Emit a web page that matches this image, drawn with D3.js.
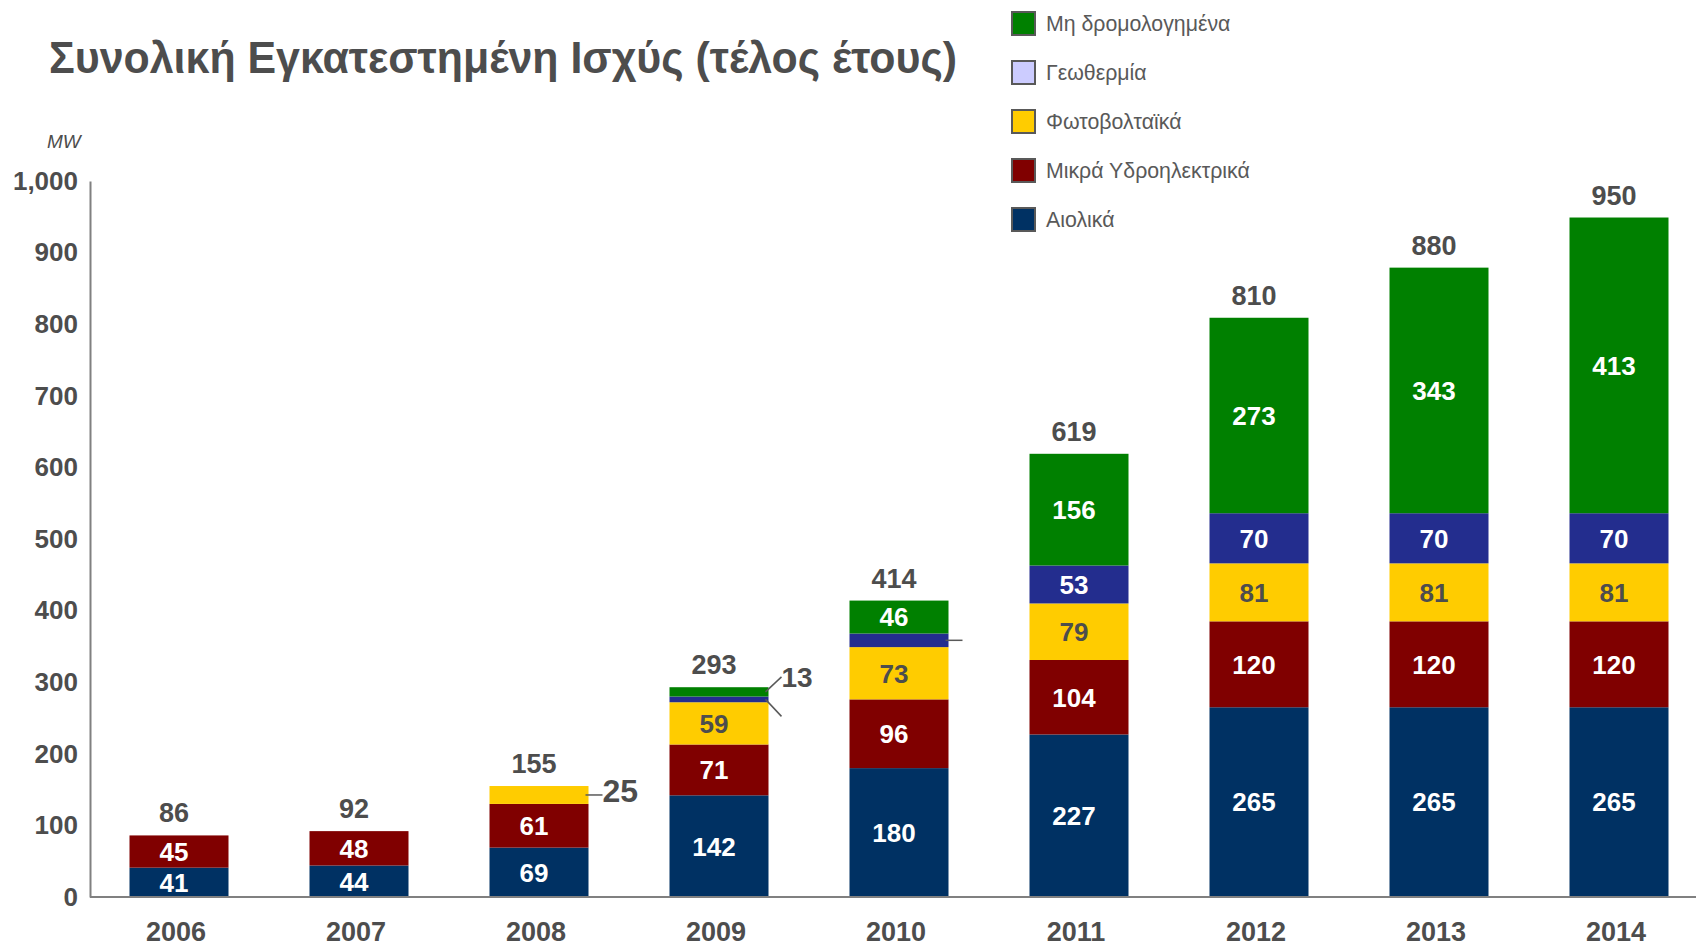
<!DOCTYPE html>
<html>
<head>
<meta charset="utf-8">
<script src="https://cdn.jsdelivr.net/npm/d3@7"></script>
<style>
  html, body { margin: 0; padding: 0; background: #fff; }
  svg text { font-family: "Liberation Sans", Arial, sans-serif; }
</style>
</head>
<body>
<svg id="chart"></svg>
<script>
// --- data ---
const years     = ["2006", "2007", "2008", "2009", "2010", "2011", "2012", "2013", "2014"];
const seriesKeys  = ["wind", "hydro", "pv", "geo", "nondisp"];
const seriesNames = ["Αιολικά", "Μικρά Υδροηλεκτρικά", "Φωτοβολταϊκά", "Γεωθερμία", "Μη δρομολογημένα"];
const wind    = [41, 44, 69, 142, 180, 227, 265, 265, 265];
const hydro   = [45, 48, 61, 71, 96, 104, 120, 120, 120];
const pv      = [0, 0, 25, 59, 73, 79, 81, 81, 81];
const geo     = [0, 0, 0, 8, 19, 53, 70, 70, 70];
const nondisp = [0, 0, 0, 13, 46, 156, 273, 343, 413];
const totals  = [86, 92, 155, 293, 414, 619, 810, 880, 950];
const yTicks  = [0, 100, 200, 300, 400, 500, 600, 700, 800, 900, 1000];
// small segments labelled outside the bar
const callouts = [
  { year: "2008", key: "pv",      text: "25" },
  { year: "2009", key: "nondisp", text: "13" },
  { year: "2009", key: "geo",     text: "" },
  { year: "2010", key: "geo",     text: "" }
];

// --- styles ---
const W = 1696, H = 948;
const barFill    = { wind: "#003163", hydro: "#800000", pv: "#ffcc00", geo: "#232d8e", nondisp: "#008000" };
const legendFill = { wind: "#003163", hydro: "#800000", pv: "#ffcc00", geo: "#ccccff", nondisp: "#008000" };
const labelFill  = { wind: "#fff", hydro: "#fff", pv: "#4d4d4d", geo: "#fff", nondisp: "#fff" };
const grey = "#4d4d4d";

const svg = d3.select("#chart").attr("width", W).attr("height", H);

// table for the stack
const cols = { wind, hydro, pv, geo, nondisp };
const table = years.map((yr, i) => {
  const row = { year: yr };
  seriesKeys.forEach(k => row[k] = cols[k][i]);
  return row;
});
const stacked = d3.stack().keys(seriesKeys)(table);

// scales
const x = d3.scaleBand().domain(years).range([89, 1709]).paddingInner(0.45).paddingOuter(0.225);
const y = d3.scaleLinear().domain([0, 1000]).range([897, 181]);

// title
const title = svg.append("text")
  .attr("x", 49).attr("y", 73)
  .attr("font-size", 44).attr("font-weight", "bold")
  .attr("fill", grey)
  .text("Συνολική Εγκατεστημένη Ισχύς (τέλος έτους)");
if (title.node().getComputedTextLength() > 908) {
  title.attr("textLength", 908).attr("lengthAdjust", "spacingAndGlyphs");
}

// unit
svg.append("text")
  .attr("x", 47).attr("y", 148)
  .attr("font-size", 19).attr("font-style", "italic")
  .attr("fill", grey)
  .text("MW");

// y axis
const yAxis = svg.append("g")
  .attr("transform", "translate(90,0)")
  .call(d3.axisLeft(y).tickValues(yTicks).tickSize(0).tickPadding(12).tickFormat(d3.format(",")));
yAxis.select(".domain").attr("stroke", "#808080").attr("stroke-width", 2);
yAxis.selectAll("text")
  .attr("font-size", 26).attr("font-weight", "bold")
  .attr("fill", grey);

// bars
const layers = svg.append("g").selectAll("g")
  .data(stacked)
  .join("g")
    .attr("fill", d => barFill[d.key]);

layers.selectAll("rect")
  .data(d => d.map(p => Object.assign(p, { key: d.key })))
  .join("rect")
    .attr("x", d => x(d.data.year))
    .attr("width", x.bandwidth())
    .attr("y", d => y(d[1]))
    .attr("height", d => y(d[0]) - y(d[1]));

// inside labels
const inside = stacked.flatMap(s => s.map(p => ({ key: s.key, year: p.data.year, v: p[1] - p[0], y0: p[0], y1: p[1] })))
  .filter(d => d.v >= 30);

svg.append("g").selectAll("text")
  .data(inside)
  .join("text")
    .attr("x", d => x(d.year) + x.bandwidth() / 2 - 5)
    .attr("y", d => y((d.y0 + d.y1) / 2))
    .attr("dy", "0.36em")
    .attr("text-anchor", "middle")
    .attr("font-size", 26).attr("font-weight", "bold")
    .attr("fill", d => labelFill[d.key])
    .text(d => d.v);

// totals
svg.append("g").selectAll("text")
  .data(years)
  .join("text")
    .attr("x", d => x(d) + x.bandwidth() / 2 - 5)
    .attr("y", (d, i) => y(d3.sum(seriesKeys, k => cols[k][i])) - 13)
    .attr("text-anchor", "middle")
    .attr("font-size", 27).attr("font-weight", "bold")
    .attr("fill", grey)
    .text((d, i) => totals[i]);

// callouts for thin segments
callouts.forEach(c => {
  const i = years.indexOf(c.year);
  const s = stacked[seriesKeys.indexOf(c.key)][i];
  const ym = y((s[0] + s[1]) / 2);
  const x0 = x(c.year) + x.bandwidth();
  let x1 = x0 + 14, y1 = ym;
  if (c.year === "2009") { y1 = ym + (c.key === "geo" ? 17 : -15); x1 = x0 + 13; }
  svg.append("line")
    .attr("x1", x0 - 3).attr("y1", ym).attr("x2", x1).attr("y2", y1)
    .attr("stroke", "#595959").attr("stroke-width", 1.5);
  if (c.text) {
    svg.append("text")
      .attr("x", x1).attr("y", c.year === "2008" ? y1 - 4 : y1)
      .attr("dy", "0.36em")
      .attr("font-size", c.year === "2008" ? 32 : 28).attr("font-weight", "bold")
      .attr("fill", grey)
      .text(c.text);
  }
});

// x axis
const xAxis = svg.append("g")
  .attr("transform", "translate(0,897)")
  .call(d3.axisBottom(x).tickSize(0).tickPadding(25));
xAxis.select(".domain").attr("d", "M90,0H1696").attr("stroke", "#808080").attr("stroke-width", 2);
xAxis.selectAll("text")
  .attr("x", -3)
  .attr("font-size", 27).attr("font-weight", "bold")
  .attr("fill", grey);

// legend
const legendKeys = seriesKeys.slice().reverse();
const legend = svg.append("g").attr("transform", "translate(1012,12)")
  .selectAll("g")
  .data(legendKeys)
  .join("g")
    .attr("transform", (d, i) => `translate(0,${i * 49})`);
legend.append("rect")
  .attr("width", 23).attr("height", 23)
  .attr("fill", d => legendFill[d])
  .attr("stroke", "#595959").attr("stroke-width", 2);
legend.append("text")
  .attr("x", 34).attr("y", 12).attr("dy", "0.35em")
  .attr("font-size", 21.3)
  .attr("fill", "#595959")
  .text(d => seriesNames[seriesKeys.indexOf(d)]);
</script>
</body>
</html>
